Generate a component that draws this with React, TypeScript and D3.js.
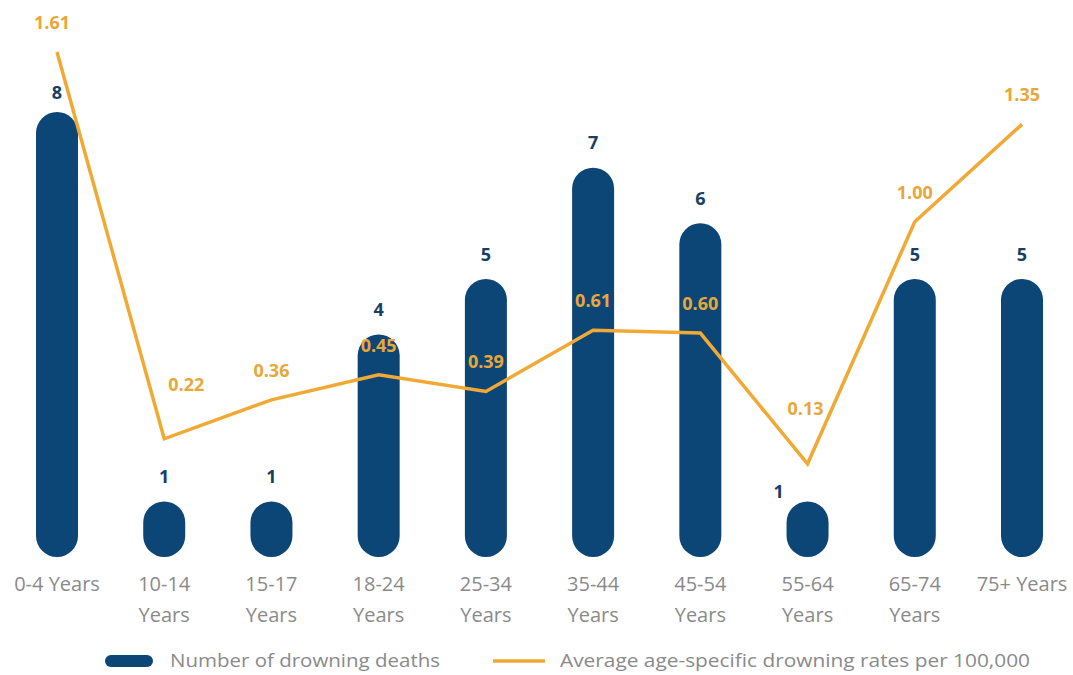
import React from "react";
import * as d3 from "d3";

const categories = ["0-4 Years", "10-14 Years", "15-17 Years", "18-24 Years", "25-34 Years", "35-44 Years", "45-54 Years", "55-64 Years", "65-74 Years", "75+ Years"];
const axisLines = [["0-4 Years"], ["10-14", "Years"], ["15-17", "Years"], ["18-24", "Years"], ["25-34", "Years"], ["35-44", "Years"], ["45-54", "Years"], ["55-64", "Years"], ["65-74", "Years"], ["75+ Years"]];
const deaths = [8, 1, 1, 4, 5, 7, 6, 1, 5, 5];
const rates = [1.61, 0.22, 0.36, 0.45, 0.39, 0.61, 0.6, 0.13, 1.0, 1.35];
const legendLabels = ["Number of drowning deaths", "Average age-specific drowning rates per 100,000"];

const BLUE = "#0c4676";
const ORANGE = "#f0a935";
const LABEL_BLUE = "#173f63";
const LABEL_ORANGE = "#e8a73a";
const GRAY = "#8a8a8a";

// label placement tweaks (style, not data)
const rateLabelOffset = (i: number) => {
  if (i === 1) return { dx: 22, dy: -53 };
  if (i === 7) return { dx: -2, dy: -54 };
  if (i === 0) return { dx: -5, dy: -28 };
  return { dx: 0, dy: -28 };
};
const countLabelOffset = (i: number) => {
  if (i === 7) return { dx: -29, dy: -8 };
  if (i === 0) return { dx: 0, dy: -18 };
  return { dx: 0, dy: -23 };
};

export default function App() {
  const W = 1073, H = 675;
  const x = d3.scalePoint<string>().domain(categories).range([57, 1022]);
  const yCount = d3.scaleLinear().domain([0, 8]).range([557, 112]);
  const yRate = d3.scaleLinear().domain([0, 1.61]).range([500, 52]);
  const barW = 42;
  const line = d3.line<number>().x((_, i) => x(categories[i])!).y((d) => yRate(d));
  const labelFont = "'Open Sans', 'DejaVu Sans', sans-serif";

  return (
    <div style={{ position: "absolute", left: 0, top: 0 }}>
      <svg width={W} height={H} style={{ display: "block", background: "#fff" }}>
        {deaths.map((d, i) => {
          const cx = x(categories[i])!;
          const top = yCount(d);
          return (
            <rect key={"b" + i} x={cx - barW / 2} y={top} width={barW} height={yCount(0) - top} rx={barW / 2} ry={barW / 2} fill={BLUE} />
          );
        })}
        {deaths.map((d, i) => {
          const o = countLabelOffset(i);
          return (
            <text key={"cl" + i} x={x(categories[i])! + o.dx} y={yCount(d) + o.dy} textAnchor="middle" dominantBaseline="middle" fontFamily={labelFont} fontWeight={700} fontSize={18} fill={LABEL_BLUE}>
              {d}
            </text>
          );
        })}
        <path d={line(rates) || ""} fill="none" stroke={ORANGE} strokeWidth={3.5} strokeLinejoin="miter" />
        {rates.map((r, i) => {
          const o = rateLabelOffset(i);
          return (
            <text key={"rl" + i} x={x(categories[i])! + o.dx} y={yRate(r) + o.dy} textAnchor="middle" dominantBaseline="middle" fontFamily={labelFont} fontWeight={700} fontSize={18} fill={LABEL_ORANGE}>
              {r.toFixed(2)}
            </text>
          );
        })}
        {axisLines.map((lines, i) => (
          <text key={"ax" + i} x={x(categories[i])!} y={591} textAnchor="middle" fontFamily={labelFont} fontSize={20} fill={GRAY}>
            {lines.map((l, j) => (
              <tspan key={j} x={x(categories[i])!} dy={j === 0 ? 0 : 31}>{l}</tspan>
            ))}
          </text>
        ))}
        <rect x={105} y={655} width={48} height={12} rx={6} fill={BLUE} />
        <text x={170} y={662} dominantBaseline="middle" fontFamily={labelFont} fontSize={19} textLength={270} lengthAdjust="spacingAndGlyphs" fill={GRAY}>{legendLabels[0]}</text>
        <line x1={493} x2={545} y1={661} y2={661} stroke={ORANGE} strokeWidth={3.5} />
        <text x={560} y={662} dominantBaseline="middle" fontFamily={labelFont} fontSize={19} textLength={470} lengthAdjust="spacingAndGlyphs" fill={GRAY}>{legendLabels[1]}</text>
      </svg>
    </div>
  );
}
